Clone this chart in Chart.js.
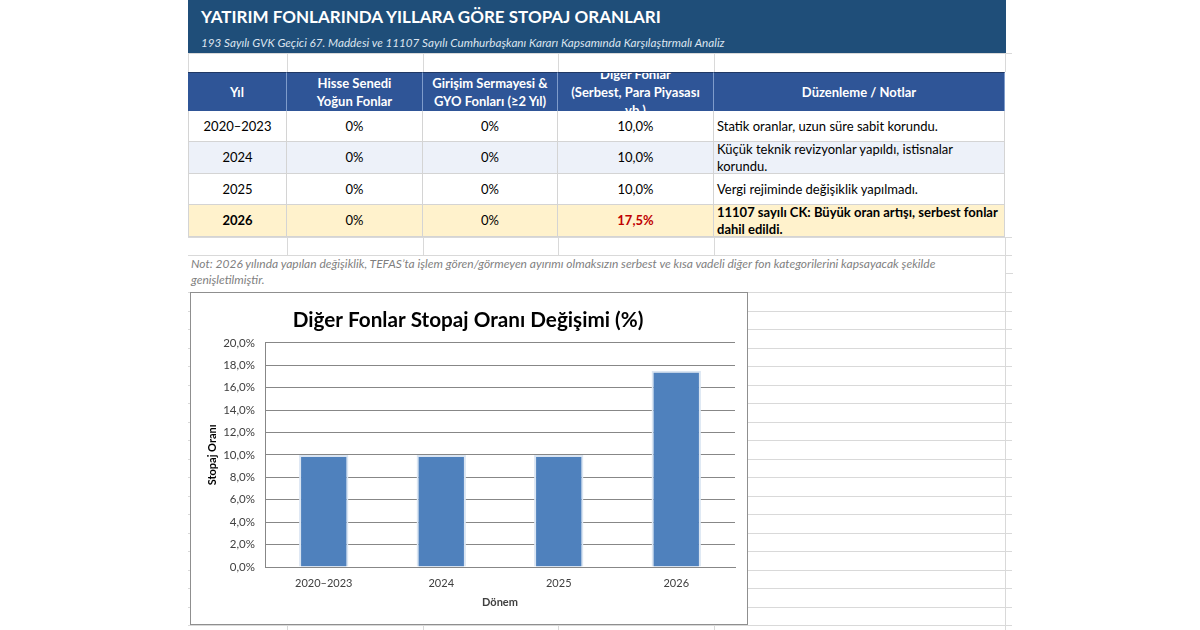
<!DOCTYPE html>
<html><head><meta charset="utf-8">
<script src="https://cdn.jsdelivr.net/npm/chart.js@4.4.0/dist/chart.umd.min.js"></script>
<style>
html,body{margin:0;padding:0;background:#fff;width:1200px;height:630px;overflow:hidden;font-family:Lato,"Noto Sans",sans-serif;}
#sheet{position:absolute;left:0;top:0;width:1200px;height:630px;}
.hl{position:absolute;height:1px;background:#D9D9D9;}
.vl{position:absolute;width:1px;background:#D9D9D9;}
.cell{position:absolute;box-sizing:border-box;display:flex;align-items:center;justify-content:center;overflow:hidden;text-align:center;font-size:13px;line-height:17px;color:#000;white-space:nowrap;}
.hdr{background:#2F5597;color:#fff;font-weight:bold;line-height:18px;border-right:1px solid #7F9CCB;}
.note{justify-content:flex-start;text-align:left;padding-left:3px;}
#banner{position:absolute;left:188px;top:0;width:818px;height:53px;background:#1F4E79;}
#btitle{position:absolute;left:13px;top:6px;color:#fff;font-weight:bold;font-size:17px;white-space:nowrap;}
#bsub{position:absolute;left:13px;top:35px;color:#DCE4EF;font-style:italic;font-size:11.7px;white-space:nowrap;}
#foot{position:absolute;left:191px;top:256px;width:790px;color:#7F7F7F;font-style:italic;font-size:12px;line-height:16px;white-space:nowrap;}
#chartbox{position:absolute;left:190px;top:292px;width:558px;height:333px;box-sizing:border-box;border:1px solid #8F8F8F;background:#fff;}
#c{display:block;}
</style>
</head>
<body>
<div id="sheet"></div>
<div id="chartbox"><canvas id="c" width="556" height="331" style="width:556px;height:331px"></canvas></div>
<script>
// ---- data ----
const sheetTitle = 'YATIRIM FONLARINDA YILLARA GÖRE STOPAJ ORANLARI';
const sheetSubtitle = '193 Sayılı GVK Geçici 67. Maddesi ve 11107 Sayılı Cumhurbaşkanı Kararı Kapsamında Karşılaştırmalı Analiz';
const headers = [['Yıl'], ['Hisse Senedi','Yoğun Fonlar'], ['Girişim Sermayesi &','GYO Fonları (≥2 Yıl)'], ['Diğer Fonlar','(Serbest, Para Piyasası','vb.)'], ['Düzenleme / Notlar']];
const categories = ['2020–2023', '2024', '2025', '2026'];
const hisseValues = [0, 0, 0, 0];
const girisimValues = [0, 0, 0, 0];
const digerValues = [10, 10, 10, 17.5];
const notes = [
  ['Statik oranlar, uzun süre sabit korundu.'],
  ['Küçük teknik revizyonlar yapıldı, istisnalar', 'korundu.'],
  ['Vergi rejiminde değişiklik yapılmadı.'],
  ['11107 sayılı CK: Büyük oran artışı, serbest fonlar', 'dahil edildi.']
];
const footnote = ['Not: 2026 yılında yapılan değişiklik, TEFAS’ta işlem gören/görmeyen ayırımı olmaksızın serbest ve kısa vadeli diğer fon kategorilerini kapsayacak şekilde', 'genişletilmiştir.'];
const chartTitle = 'Diğer Fonlar Stopaj Oranı Değişimi (%)';
const xTitle = 'Dönem';
const yTitle = 'Stopaj Oranı';
const yMin = 0, yMax = 20, yStep = 2;

// ---- sheet layout ----
const sheet = document.getElementById('sheet');
const colX = [188, 287, 423, 558, 714, 1005];
const hdrTop = 72, hdrBot = 111;
const rowY = [111, 142, 174, 205, 237];
const rowBg = ['#FFFFFF', '#EDF1F9', '#FFFFFF', '#FFF2CC'];
function el(cls, css, html) {
  const d = document.createElement('div');
  d.className = cls;
  Object.assign(d.style, css);
  if (html !== undefined) d.innerHTML = html;
  sheet.appendChild(d);
  return d;
}
const pct0 = v => v + '%';
const pct1 = v => v.toFixed(1).replace('.', ',') + '%';

// background grid lines (right side & below)
const gridRows = [237, 255, 292];
for (let y = 292; y < 640; y += 18.5) gridRows.push(Math.round(y));
gridRows.forEach(y => el('hl', {left: '188px', top: y + 'px', width: '824px'}));
el('hl', {left: '1005px', top: '273px', width: '8px'});
el('vl', {left: '1005px', top: '237px', height: '400px'});
colX.slice(1, 5).forEach(x => {
  el('vl', {left: x + 'px', top: '237px', height: '18px'});
  el('vl', {left: x + 'px', top: '292px', height: '340px'});
});
// empty row above header
el('hl', {left: '188px', top: '53px', width: '824px'});
colX.forEach(x => el('vl', {left: x + 'px', top: '53px', height: '19px'}));

// banner
const banner = document.createElement('div');
banner.id = 'banner';
banner.innerHTML = '<div id="btitle">' + sheetTitle + '</div><div id="bsub">' + sheetSubtitle + '</div>';
sheet.appendChild(banner);

// header
headers.forEach((h, i) => {
  el('cell hdr', {left: colX[i] + 'px', top: hdrTop + 'px', width: (colX[i + 1] - colX[i]) + 'px', height: (hdrBot - hdrTop) + 'px', borderTop: '1px solid #203864'}, h.join('<br>'));
});

// data rows
categories.forEach((cat, r) => {
  const top = rowY[r], h = rowY[r + 1] - rowY[r];
  const last = r === categories.length - 1;
  const base = {top: top + 'px', height: h + 'px', background: rowBg[r], borderBottom: '1px solid #D4D4D4'};
  const vals = [cat, pct0(hisseValues[r]), pct0(girisimValues[r]), pct1(digerValues[r])];
  vals.forEach((v, i) => {
    const css = Object.assign({}, base, {left: colX[i] + 'px', width: (colX[i + 1] - colX[i]) + 'px', borderRight: '1px solid #D4D4D4'});
    if (i === 0) css.borderLeft = '1px solid #D4D4D4';
    if (last && (i === 0 || i === 3)) css.fontWeight = 'bold';
    if (i === 3 && last) css.color = '#C00000';
    el('cell', css, v);
  });
  el('cell note', Object.assign({}, base, {left: colX[4] + 'px', width: (colX[5] - colX[4]) + 'px', borderRight: '1px solid #D4D4D4', fontWeight: last ? 'bold' : 'normal'}), notes[r].join('<br>'));
});

// footnote
const f = document.createElement('div');
f.id = 'foot';
f.innerHTML = footnote.join('<br>');
sheet.appendChild(f);

// ---- chart ----
const FONT = 'Lato, "Noto Sans", sans-serif';
new Chart(document.getElementById('c'), {
  type: 'bar',
  data: {
    labels: categories,
    datasets: [{
      data: digerValues,
      backgroundColor: '#4F81BD',
      borderColor: '#DAE5F2',
      borderWidth: 2,
      borderSkipped: 'start',
      barPercentage: 0.42,
      categoryPercentage: 1
    }]
  },
  options: {
    responsive: false,
    animation: false,
    devicePixelRatio: 1,
    layout: {padding: {left: 10, right: 12, top: 0, bottom: 0}},
    plugins: {
      legend: {display: false},
      tooltip: {enabled: false},
      title: {display: true, text: chartTitle, color: '#000', font: {family: FONT, size: 20.7, weight: 'bold', lineHeight: 1.2}, padding: {top: 15, bottom: 10}}
    },
    scales: {
      x: {
        grid: {display: false, drawTicks: false},
        border: {display: true, color: '#878787'},
        ticks: {padding: 10, color: '#404040', font: {family: FONT, size: 11}},
        title: {display: true, text: xTitle, color: '#404040', font: {family: FONT, size: 11, weight: 'bold', lineHeight: 1.2}, padding: {top: 4, bottom: 15}},
        afterFit(s) { s.height = 57; }
      },
      y: {
        min: yMin, max: yMax,
        grid: {color: '#878787', drawTicks: false},
        border: {display: true, color: '#878787'},
        ticks: {stepSize: yStep, padding: 10, color: '#404040', font: {family: FONT, size: 11.5}, callback: v => pct1(v)},
        title: {display: true, text: yTitle, color: '#000', font: {family: FONT, size: 11, weight: 'bold', lineHeight: 1.2}, padding: {top: 5, bottom: 4}},
        afterFit(s) { s.width = 64; }
      }
    }
  }
});
</script>
</body></html>
